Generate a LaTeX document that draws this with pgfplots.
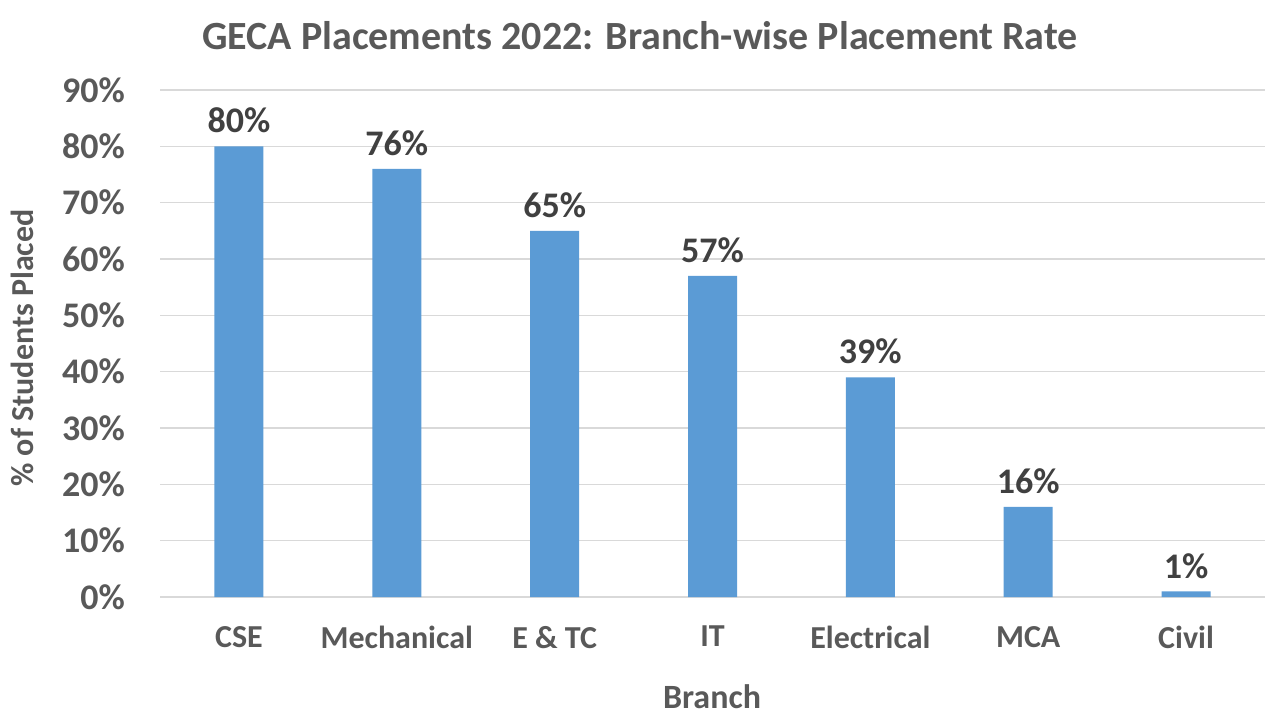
\documentclass[border=0pt]{standalone}
\usepackage{fontspec}
\setmainfont{Carlito}
\usepackage{pgfplots}
\pgfplotsset{compat=1.18}
\definecolor{barblue}{HTML}{5B9BD5}
\definecolor{txtgray}{HTML}{595959}
\definecolor{lblgray}{HTML}{404040}
\definecolor{gridgray}{HTML}{D9D9D9}
\begin{document}
\begin{tikzpicture}
\useasboundingbox (0,0) rectangle (640pt,360pt);
\begin{axis}[
  at={(80pt,61.5pt)}, anchor=south west,
  scale only axis, width=552.5pt, height=253.5pt,
  xmin=-0.5, xmax=6.5, ymin=0, ymax=90,
  axis line style={draw=none},
  ytick={0,10,...,90},
  yticklabel={\pgfmathprintnumber{\tick}\%},
  /pgf/number format/assume math mode=true,
  xtick={0,...,6},
  xticklabels={CSE,Mechanical,E \& TC,IT,Electrical,MCA,Civil},
  major tick length=0pt,
  ymajorgrids, grid style={gridgray, line width=0.6pt},
  yticklabel style={font=\fontsize{18}{20}\selectfont\bfseries, text=txtgray, xshift=-14pt},
  xticklabel style={font=\fontsize{16}{18}\selectfont\bfseries, text=txtgray, yshift=-11pt},
  ybar, bar width=24.5pt,
  nodes near coords={\pgfmathprintnumber{\pgfplotspointmeta}\%},
  nodes near coords style={font=\fontsize{18}{20}\selectfont\bfseries, text=lblgray, yshift=3pt},
  clip=false,
]
\addplot[fill=barblue, draw=none] coordinates {(0,80) (1,76) (2,65) (3,57) (4,39) (5,16) (6,1)};
\end{axis}
\node[font=\fontsize{20}{22}\selectfont\bfseries, text=txtgray] at (320pt,342pt) {GECA Placements 2022: Branch-wise Placement Rate};
\node[font=\fontsize{17}{19}\selectfont\bfseries, text=txtgray] at (356pt,11.5pt) {Branch};
\node[font=\fontsize{16}{18}\selectfont\bfseries, text=txtgray, rotate=90] at (11pt,186pt) {\% of Students Placed};
\end{tikzpicture}
\end{document}
